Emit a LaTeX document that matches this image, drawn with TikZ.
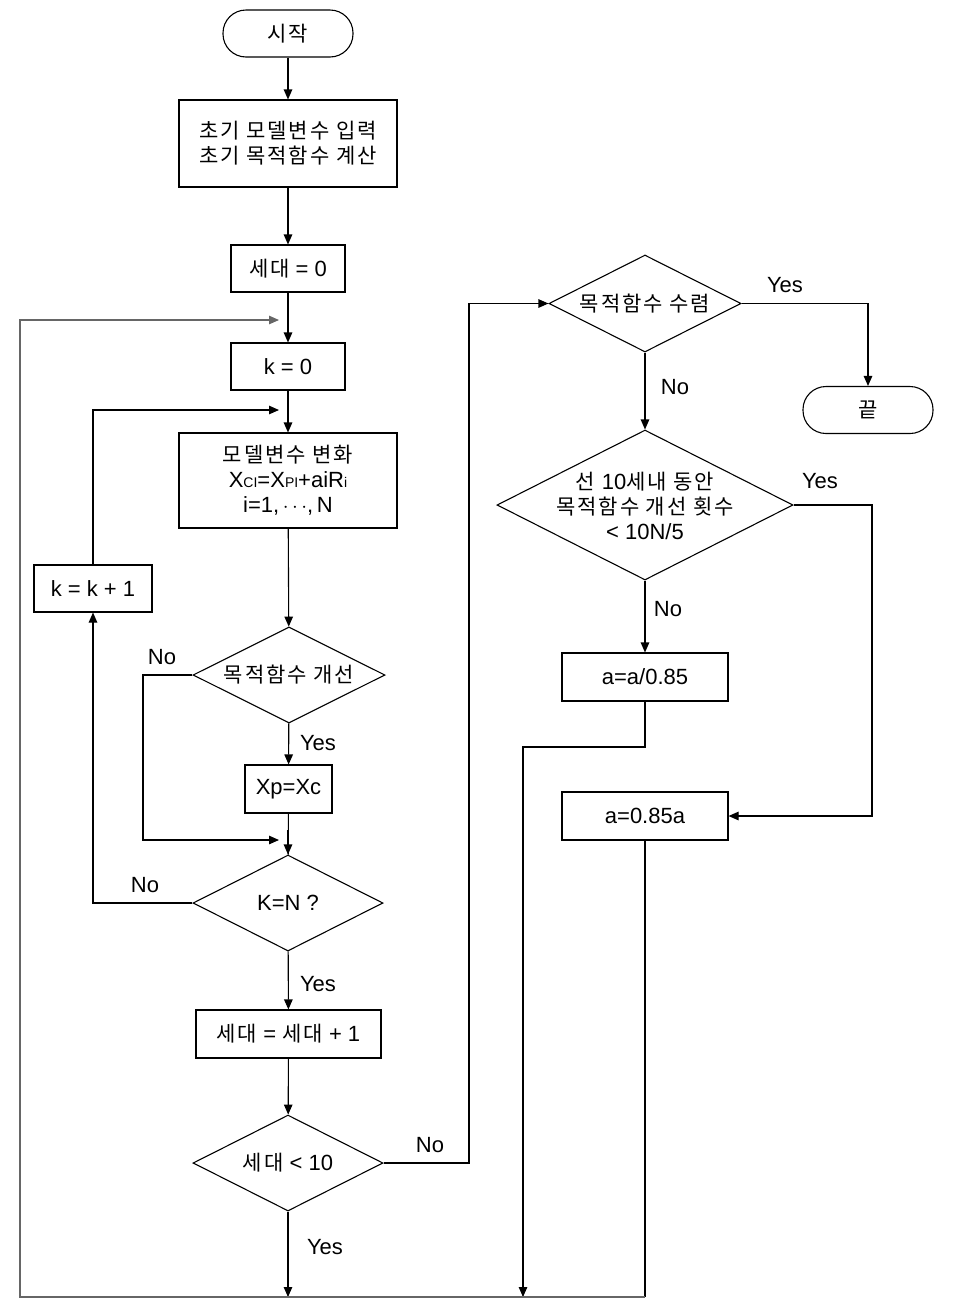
\documentclass[tikz,border=0pt]{standalone}
\usepackage{fontspec}
\setmainfont{Liberation Sans}
\newfontfamily\kr[LetterSpace=9]{Noto Sans CJK KR}
\usetikzlibrary{shapes.geometric,arrows.meta}
\newcommand{\fs}{\fontsize{22}{25}\selectfont}
\newcommand{\fk}{\fontsize{21}{25}\selectfont\kr}
\newcommand{\sm}[1]{{\fontsize{14}{14}\selectfont #1}}
\newcommand{\K}[1]{{\fk #1}}
\newcommand{\Lt}[1]{{\fs\rmfamily #1}}
\begin{document}
\begin{tikzpicture}[x=1pt,y=-1pt, line width=1.1pt,
  >={Triangle[length=10pt,width=8.5pt]},
  box/.style={draw, rectangle, inner sep=0pt, align=center, font=\fs},
  term/.style={draw, rectangle, rounded corners=23pt, minimum width=130pt, minimum height=47pt, inner sep=0pt, font=\fk},
  dia/.style={draw, diamond, inner sep=0pt},
  txt/.style={align=center, font=\fs},
  lbl/.style={font=\fs, inner sep=0pt},
  outer/.style={draw=black!60}]
\useasboundingbox (0,0) rectangle (960,1307);
% left column
\node[term] (start) at (288,33.5) {시작};
\node[box, minimum width=218pt, minimum height=87pt, font=\fk] (init) at (288,143.5) {초기 모델변수 입력\\초기 목적함수 계산};
\node[box, minimum width=114pt, minimum height=47pt] (gen0) at (288,268.5) {\K{세대} = 0};
\node[box, minimum width=114pt, minimum height=47pt] (k0) at (288,366.5) {k = 0};
\node[box, minimum width=218pt, minimum height=95pt] (mod) at (288,480.5) {\K{모델변수 변화}\\X\sm{CI}=X\sm{PI}+aiR\sm{i}\\i=1,\,$\cdots$,\,N};
\node[box, minimum width=118pt, minimum height=47pt] (kinc) at (93,588.5) {k = k + 1};
\node[dia, minimum width=192pt, minimum height=96pt] (imp) at (289,675) {};
\node[txt, font=\fk] (impt) at (imp) {목적함수 개선};
\node[box, minimum width=87pt, minimum height=48pt] (xp) at (288.5,789) {Xp=Xc};
\node[dia, minimum width=190pt, minimum height=96pt] (kn) at (288,903) {};
\node[txt] (knt) at (kn) {K=N ?};
\node[box, minimum width=185pt, minimum height=48pt] (gen1) at (288.5,1034) {\K{세대} = \K{세대} + 1};
\node[dia, minimum width=190pt, minimum height=96pt] (g10) at (288,1163) {};
\node[txt] (g10t) at (g10) {\K{세대} < 10};
% right column
\node[dia, minimum width=192pt, minimum height=97pt] (conv) at (645,303.5) {};
\node[txt, font=\fk] (convt) at (conv) {목적함수 수렴};
\node[term] (end) at (868,410) {끝};
\node[dia, minimum width=296pt, minimum height=150pt] (cnt) at (645,505) {};
\node[txt, font=\fk, yshift=-1pt] (cntt) at (cnt) {선 \Lt{10}세내 동안\\목적함수 개선 횟수\\\Lt{< 10N/5}};
\node[box, minimum width=166pt, minimum height=48pt] (aup) at (645,677) {a=a/0.85};
\node[box, minimum width=166pt, minimum height=48pt] (adn) at (645,816) {a=0.85a};
% coordinates
\coordinate (m1) at (279,320);
\coordinate (m2) at (279,410);
\coordinate (m3) at (279,840);
\coordinate (b1) at (288,1297);
\coordinate (b2) at (523,1297);
\coordinate (bl) at (20,1297);
\coordinate (br) at (645,1297);
% connectors
\draw[->] (start) -- (init);
\draw[->] (init) -- (gen0);
\draw[->] (gen0) -- (k0);
\draw[->] (k0) -- (mod);
\draw[->] (mod) -- (imp);
\draw[->] (imp) -- (xp);
\draw (xp) -- (kn);
\draw[->] (288,830) -- (kn.north);
\draw[->] (imp.west) -- (143,675) |- (m3);
\draw[->] (kn.west) -| (kinc.south);
\draw[->] (kinc.north) |- (m2);
\draw[->] (kn) -- (gen1);
\draw[->] (gen1) -- (g10);
\draw[->] (g10.south) -- (b1);
\draw[->] (g10.east) -- (469,1163) |- (conv.west);
\draw[->] (conv.east) -| (end.north);
\draw[->] (conv) -- (cnt);
\draw[->] (cnt) -- (aup);
\draw[->] (cnt.east) -- (872,505) |- (adn.east);
\draw[->] (aup.south) -- (645,747) -| (b2);
\draw (adn.south) -- (br);
\draw[outer, ->] (br) -- (bl) -- (20,320) -- (m1);
% labels
\node[lbl] (l1) at (785,285) {Yes};
\node[lbl] (l2) at (675,387) {No};
\node[lbl] (l3) at (820,481) {Yes};
\node[lbl] (l4) at (668,609) {No};
\node[lbl] (l5) at (162,657) {No};
\node[lbl] (l6) at (318,743) {Yes};
\node[lbl] (l7) at (145,885) {No};
\node[lbl] (l8) at (318,984) {Yes};
\node[lbl] (l9) at (430,1145) {No};
\node[lbl] (l10) at (325,1247) {Yes};
\end{tikzpicture}
\end{document}
